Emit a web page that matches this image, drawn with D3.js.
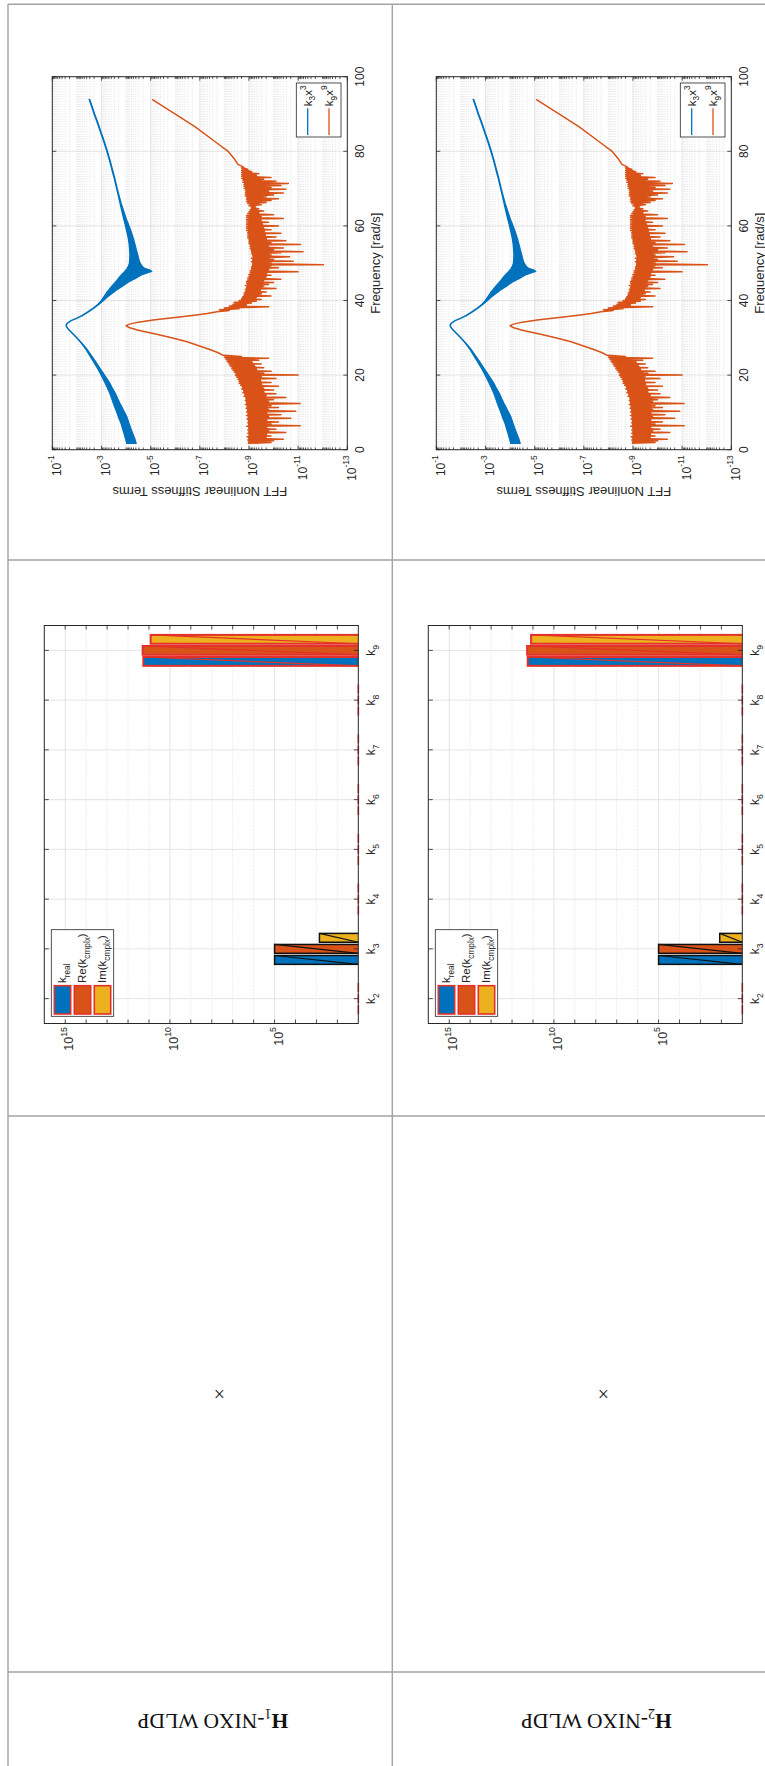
<!DOCTYPE html>
<html><head><meta charset="utf-8">
<script src="https://cdn.jsdelivr.net/npm/d3@7"></script>
<style>body{margin:0;background:#fff}svg{display:block}</style>
</head><body>
<svg id="c" width="765" height="1766"></svg>
<script>
// ---------------- DATA ----------------
const rowLabels = ["1", "2"];                       // H subscript of each table row
const termCategories = [2, 3, 4, 5, 6, 7, 8, 9];    // k_n
const trueTerm = [false, true, false, false, false, false, false, false];
const seriesNames = [
  [{t:"k"},{t:"real",s:"sub"}],
  [{t:"Re(k"},{t:"cmplx",s:"sub"},{t:")"}],
  [{t:"Im(k"},{t:"cmplx",s:"sub"},{t:")"}]
];
const h1Kreal    = [0, 1.0e5, 0, 0, 0, 0, 0, 1.86e11];
const h1ReCmplx  = [0, 1.0e5, 0, 0, 0, 0, 0, 2.0e11];
const h1ImCmplx  = [0, 7.2e2, 0, 0, 0, 0, 0, 8.3e10];
const h2Kreal    = [0, 1.0e5, 0, 0, 0, 0, 0, 1.78e11];
const h2ReCmplx  = [0, 1.0e5, 0, 0, 0, 0, 0, 1.9e11];
const h2ImCmplx  = [0, 1.2e2, 0, 0, 0, 0, 0, 1.23e11];
const barExpTicks = [5, 10, 15];
const freqTicks = [0, 20, 40, 60, 80, 100];
const fftExpTicks = [-13, -11, -9, -7, -5, -3, -1];
const fftLegend = [
  [{t:"k"},{t:"3",s:"sub"},{t:"x"},{t:"3",s:"sup"}],
  [{t:"k"},{t:"9",s:"sub"},{t:"x"},{t:"9",s:"sup"}]
];
// k3*x^3 spectrum: [freq, log10 upper envelope, log10 lower envelope]
const fftK3Band = [
[1.7,-4.03,-4.41],[3,-3.98,-4.35],[5,-3.89,-4.23],[7,-3.8,-4.12],[8.8,-3.69,-4.03],[10.5,-3.6,-3.9],
[12,-3.51,-3.78],[13.5,-3.43,-3.67],[15,-3.35,-3.57],[16.5,-3.25,-3.44],[18,-3.14,-3.32],[19.5,-3.03,-3.17],
[21,-2.91,-3.02],[22.5,-2.78,-2.87],[24,-2.64,-2.72],[25.5,-2.5,-2.56],[27,-2.36,-2.4],[28.5,-2.19,-2.21],
[30,-1.99,-2.0],[31,-1.84,-1.85],[32,-1.69,-1.7],[32.8,-1.59,-1.6],[33.4,-1.56,-1.57],[33.9,-1.6,-1.61],
[34.6,-1.76,-1.77],[35.3,-2.0,-2.01],[36,-2.22,-2.24],[37,-2.46,-2.48],[38,-2.67,-2.7],[39,-2.86,-2.9],
[40,-3.0,-3.08],[41,-3.1,-3.25],[42,-3.2,-3.45],[43,-3.32,-3.65],[44,-3.45,-3.88],[45,-3.58,-4.1],
[46,-3.7,-4.4],[46.8,-3.8,-4.6],[47.3,-3.88,-4.8],[47.8,-3.95,-5.04],[48.2,-4.0,-4.95],[48.6,-4.05,-4.75],
[49.2,-4.1,-4.65],[50,-4.14,-4.57],[51,-4.15,-4.52],[52,-4.16,-4.48],[53.5,-4.15,-4.42],[55,-4.13,-4.36],
[56.5,-4.1,-4.3],[58,-4.05,-4.23],[60,-3.98,-4.12],[62,-3.9,-4.0],[64,-3.83,-3.9],[66,-3.76,-3.8],
[68,-3.69,-3.72],[70,-3.62,-3.64],[72.5,-3.53,-3.55],[75,-3.43,-3.45],[77.5,-3.33,-3.35],[80,-3.22,-3.24],
[82.5,-3.1,-3.12],[85,-2.97,-2.99],[87.5,-2.84,-2.86],[90,-2.7,-2.72],[92,-2.6,-2.62],[93.9,-2.5,-2.52]];
// k9*x^9 spectrum: [freq, log10 value]
const fftK9 = [
[1.7,-8.95],[1.9,-9.9],[2.2,-9.0],[2.4,-10.0],[2.6,-8.95],[2.8,-10.4],[3.1,-9.0],[3.3,-9.6],[3.5,-8.92],[3.7,-9.9],
[4.0,-9.05],[4.2,-9.7],[4.4,-8.95],[4.6,-10.5],[4.9,-9.0],[5.1,-9.8],[5.3,-8.95],[5.5,-10.1],[5.8,-9.0],[6.0,-9.6],
[6.3,-8.9],[6.4,-11.08],[6.7,-9.0],[6.9,-9.9],[7.2,-8.95],[7.4,-10.2],[7.7,-9.0],[7.9,-9.7],[8.2,-8.92],[8.4,-10.7],
[8.7,-9.0],[8.9,-9.8],[9.2,-8.9],[9.4,-10.3],[9.7,-9.0],[9.9,-9.7],[10.1,-8.9],[10.3,-10.9],[10.6,-9.0],[10.8,-9.8],
[11.1,-8.88],[11.3,-10.2],[11.6,-8.95],[11.8,-9.9],[12.1,-8.85],[12.4,-11.08],[12.7,-8.95],[12.9,-9.8],[13.2,-8.85],[13.4,-10.0],
[13.7,-8.9],[14.0,-10.5],[14.3,-8.8],[14.5,-9.7],[14.8,-8.85],[15.0,-10.1],[15.3,-8.75],[15.5,-9.6],[15.8,-8.8],[16.0,-10.0],
[16.3,-8.7],[16.5,-9.6],[16.9,-8.75],[17.0,-10.2],[17.3,-8.65],[17.5,-9.5],[17.8,-8.6],[18.0,-9.9],[18.3,-8.6],[18.5,-9.4],
[18.8,-8.55],[19.1,-10.1],[19.4,-8.5],[19.6,-9.5],[19.9,-8.45],[20.0,-11.0],[20.3,-8.45],[20.5,-9.6],[20.8,-8.4],[21.0,-9.9],
[21.3,-8.35],[21.5,-9.3],[21.8,-8.3],[22.0,-9.6],[22.3,-8.25],[22.5,-9.2],[22.8,-8.2],[23.0,-9.5],[23.3,-8.15],[23.5,-9.1],
[23.8,-8.1],[24.0,-9.4],[24.3,-8.05],[24.5,-9.8],[24.8,-8.0],[25.0,-8.7],[25.3,-7.95],
[26,-7.75],[27,-7.35],[28,-6.9],[29,-6.45],[30,-5.85],[31,-5.2],[32,-4.5],[32.7,-4.15],[33.2,-4.0],[33.6,-4.1],
[34.2,-4.5],[34.8,-5.1],[35.4,-5.9],[36.0,-6.7],[36.5,-7.3],[37.0,-7.7],
[37.3,-8.2],[37.5,-7.8],[37.8,-8.6],[38.0,-8.0],[38.3,-9.8],[38.5,-8.2],[38.8,-8.9],[39.0,-8.35],[39.3,-9.1],[39.5,-8.4],
[39.8,-9.3],[40.0,-8.6],[40.3,-9.5],[40.5,-8.7],[40.8,-9.3],[41.0,-8.75],[41.2,-9.9],[41.5,-8.8],[41.8,-9.5],[42.0,-8.8],
[42.3,-9.7],[42.5,-8.85],[42.8,-9.4],[43.0,-8.85],[43.2,-10.1],[43.5,-8.9],[43.8,-9.6],[44.0,-8.85],[44.3,-9.8],[44.6,-8.9],
[44.8,-10.0],[45.1,-8.9],[45.3,-9.5],[45.5,-8.95],[45.7,-10.3],[46.0,-8.95],[46.3,-9.7],[46.5,-9.0],[46.8,-9.9],[47.0,-9.0],
[47.3,-9.6],[47.5,-9.05],[47.7,-11.0],[48.0,-9.05],[48.3,-9.8],[48.5,-9.1],[48.8,-10.2],[49.0,-9.1],[49.3,-9.9],[49.5,-9.15],
[49.6,-12.03],[49.9,-9.15],[50.1,-9.9],[50.4,-9.1],[50.5,-10.8],[50.8,-9.15],[51.0,-10.0],[51.3,-9.1],[51.7,-10.65],[52.0,-9.15],
[52.2,-9.9],[52.5,-9.1],[52.8,-10.3],[53.0,-9.1],[53.1,-11.2],[53.4,-9.1],[53.6,-10.0],[53.9,-9.05],[54.1,-10.4],[54.4,-9.05],
[54.6,-9.8],[54.9,-9.05],[55.0,-11.1],[55.3,-9.0],[55.5,-9.9],[55.8,-9.0],[56.0,-10.5],[56.3,-9.0],[56.5,-9.7],[56.8,-8.95],
[57.0,-10.1],[57.3,-8.95],[57.5,-9.6],[57.8,-8.95],[58.0,-10.3],[58.3,-8.95],[58.5,-9.6],[58.8,-8.9],[59.0,-9.9],[59.3,-8.9],
[59.5,-9.5],[59.8,-8.9],[60.0,-10.2],[60.3,-8.9],[60.5,-9.5],[60.8,-8.9],[61.0,-9.8],[61.3,-8.9],[61.5,-9.4],[61.8,-8.9],
[62.0,-10.4],[62.3,-8.9],[62.5,-9.5],[62.8,-8.9],[63.0,-10.0],[63.3,-8.95],[63.5,-9.4],[63.8,-9.0],[64.0,-9.6],[64.3,-9.05],
[64.6,-9.4],[64.9,-9.1],[65.1,-9.25],[65.4,-9.0],[65.7,-9.5],[66.0,-8.95],[66.3,-9.7],[66.5,-8.9],[66.8,-9.9],[67.0,-8.9],
[67.3,-10.2],[67.5,-8.9],[67.8,-9.7],[68.0,-8.85],[68.3,-10.0],[68.5,-8.85],[68.8,-10.4],[69.0,-8.85],[69.3,-9.8],[69.6,-8.85],
[69.8,-10.5],[70.1,-8.8],[70.3,-9.9],[70.6,-8.8],[70.8,-10.3],[71.1,-8.8],[71.4,-10.6],[71.7,-8.75],[72.0,-10.1],[72.3,-8.75],
[72.5,-9.6],[72.8,-8.7],[73.0,-9.9],[73.3,-8.7],[73.5,-9.3],[73.8,-8.7],[74.0,-9.4],[74.3,-8.7],[74.6,-9.1],[74.9,-8.7],
[75.2,-8.95],[75.5,-8.7],[75.9,-8.75],
[76.5,-8.55],[78,-8.4],[80,-8.15],[82.7,-7.6],[86.6,-6.8],[89.9,-6.02],[93.9,-5.06]];
// dense core of the k9*x^9 noise: [freq, log10 upper, log10 lower]
const fftK9CoreLow = [
[1.8,-8.97,-9.7],[5,-8.98,-9.75],[10,-8.93,-9.75],[14,-8.85,-9.7],[17,-8.7,-9.55],[20,-8.5,-9.45],
[22,-8.33,-9.3],[24,-8.12,-9.1],[25,-8.0,-8.6]];
const fftK9CoreMid = [
[37.5,-8.0,-8.3],[38.5,-8.25,-8.8],[40,-8.65,-9.2],[42,-8.85,-9.45],[45,-8.95,-9.6],[48,-9.1,-9.8],
[52,-9.15,-9.85],[56,-9.0,-9.75],[60,-8.95,-9.6],[63.5,-9.0,-9.4],[65.1,-9.1,-9.25],[66.5,-8.95,-9.5],
[70,-8.85,-9.7],[72.5,-8.75,-9.5],[74.5,-8.72,-9.1],[75.8,-8.72,-8.8]];

// ---------------- DRAWING ----------------
const C_BLUE = "#0072BD", C_ORANGE = "#D95319", C_YELLOW = "#EDB120", C_RED = "#e4302a";
const AX = "#262626", GRID = "#dedede", GRIDMIN = "#cfcfcf";
const FONT = "'Liberation Sans', Arial, Helvetica, sans-serif";
const svg = d3.select("#c");
svg.append("rect").attr("width", 765).attr("height", 1766).attr("fill", "#fff");
const defs = svg.append("defs");

function rich(sel, parts, fs) {
  let cur = 0;
  parts.forEach(p => {
    const off = p.s === "sub" ? fs * 0.32 : p.s === "sup" ? -fs * 0.5 : 0;
    sel.append("tspan").attr("dy", off - cur).attr("font-size", p.s ? fs * 0.72 : fs).text(p.t);
    cur = off;
  });
}

// table lines
const tbl = svg.append("g").attr("stroke", "#a3a3a3").attr("stroke-width", 1.4);
[8, 392.3].forEach(x => tbl.append("line").attr("x1", x).attr("x2", x).attr("y1", 4.3).attr("y2", 1766));
[4.3, 560, 1116, 1672].forEach(y => tbl.append("line").attr("x1", 8).attr("x2", 765).attr("y1", y).attr("y2", y));

function drawFFT(g, W, H, id) {
  const x = d3.scaleLinear().domain([0, 100]).range([0, W]);
  const y = d3.scaleLog().domain([1e-1, 1e-13]).range([0, H]);
  defs.append("clipPath").attr("id", id).append("rect").attr("width", W).attr("height", H);
  const minorVals = [];
  for (let e = -13; e < -1; e++) for (let m = 1; m <= 9; m++) {
    const v = m * Math.pow(10, e);
    if (m === 1 && fftExpTicks.includes(e)) continue;
    minorVals.push(v);
  }
  g.append("g").selectAll("line").data(minorVals).join("line")
    .attr("x1", 0).attr("x2", W).attr("y1", d => y(d)).attr("y2", d => y(d))
    .attr("stroke", GRIDMIN).attr("stroke-width", 0.6).attr("stroke-dasharray", "1,1.5");
  g.append("g").selectAll("line").data(fftExpTicks.slice(1, -1)).join("line")
    .attr("x1", 0).attr("x2", W).attr("y1", d => y(Math.pow(10, d))).attr("y2", d => y(Math.pow(10, d)))
    .attr("stroke", GRID).attr("stroke-width", 0.8);
  g.append("g").selectAll("line").data(freqTicks.slice(1, -1)).join("line")
    .attr("x1", d => x(d)).attr("x2", d => x(d)).attr("y1", 0).attr("y2", H)
    .attr("stroke", GRID).attr("stroke-width", 0.8);
  // data
  const pg = g.append("g").attr("clip-path", `url(#${id})`);
  const band = d3.area().x(d => x(d[0])).y0(d => y(Math.pow(10, d[2]))).y1(d => y(Math.pow(10, d[1])));
  pg.append("path").datum(fftK3Band).attr("d", band)
    .attr("fill", C_BLUE).attr("stroke", C_BLUE).attr("stroke-width", 1.4).attr("stroke-linejoin", "round");
  [fftK9CoreLow, fftK9CoreMid].forEach(core => pg.append("path").datum(core).attr("d", band)
    .attr("fill", C_ORANGE).attr("stroke", "none"));
  pg.append("path").datum(fftK9)
    .attr("d", d3.line().x(d => x(d[0])).y(d => y(Math.pow(10, d[1]))))
    .attr("fill", "none").attr("stroke", C_ORANGE).attr("stroke-width", 1.5).attr("stroke-linejoin", "round");
  // box
  g.append("rect").attr("width", W).attr("height", H).attr("fill", "none").attr("stroke", AX).attr("stroke-width", 1);
  // ticks
  const tk = g.append("g").attr("stroke", AX).attr("stroke-width", 0.8);
  freqTicks.forEach(t => {
    tk.append("line").attr("x1", x(t)).attr("x2", x(t)).attr("y1", H).attr("y2", H - 4);
    tk.append("line").attr("x1", x(t)).attr("x2", x(t)).attr("y1", 0).attr("y2", 4);
  });
  fftExpTicks.forEach(e => {
    const v = y(Math.pow(10, e));
    tk.append("line").attr("x1", 0).attr("x2", 4).attr("y1", v).attr("y2", v);
    tk.append("line").attr("x1", W).attr("x2", W - 4).attr("y1", v).attr("y2", v);
  });
  minorVals.forEach(d => {
    const v = y(d);
    tk.append("line").attr("x1", 0).attr("x2", 2.2).attr("y1", v).attr("y2", v);
    tk.append("line").attr("x1", W).attr("x2", W - 2.2).attr("y1", v).attr("y2", v);
  });
  // labels
  const lab = g.append("g").attr("font-family", FONT).attr("fill", AX);
  freqTicks.forEach(t => lab.append("text").attr("x", x(t)).attr("y", H + 16.5)
    .attr("text-anchor", "middle").attr("font-size", 12).text(t));
  fftExpTicks.forEach(e => {
    const t = lab.append("text").attr("x", -5.5).attr("y", y(Math.pow(10, e)) + 8.5)
      .attr("text-anchor", "end").attr("font-size", 12);
    t.append("tspan").text("10");
    t.append("tspan").attr("dy", -6.5).attr("font-size", 8.5).text(e);
  });
  lab.append("text").attr("x", W / 2).attr("y", H + 32.5).attr("text-anchor", "middle")
    .attr("font-size", 13).text("Frequency [rad/s]");
  lab.append("text").attr("transform", `translate(-37.5,${H / 2}) rotate(-90)`)
    .attr("text-anchor", "middle").attr("font-size", 13).text("FFT Nonlinear Stiffness Terms");
  // legend
  const lg = g.append("g");
  lg.append("rect").attr("x", W - 60.3).attr("y", H - 51).attr("width", 54).attr("height", 44.7)
    .attr("fill", "#fff").attr("stroke", AX).attr("stroke-width", 0.8);
  [C_BLUE, C_ORANGE].forEach((c, i) => {
    const vy = H - 39.6 + i * 21.3;
    lg.append("line").attr("x1", W - 58.3).attr("x2", W - 31.6).attr("y1", vy).attr("y2", vy)
      .attr("stroke", c).attr("stroke-width", 1.3);
    const t = lg.append("text").attr("x", W - 29.5).attr("y", vy + 4).attr("font-family", FONT).attr("fill", AX);
    rich(t, fftLegend[i], 11.5);
  });
}

function drawBars(g, W, H, id, series) {
  const x = d3.scaleLinear().domain([1.5, 9.5]).range([0, W]);
  const y = d3.scaleLog().domain([1e16, 1e1]).range([0, H]);
  defs.append("clipPath").attr("id", id).append("rect").attr("width", W).attr("height", H);
  const decades = d3.range(2, 16);
  g.append("g").selectAll("line").data(decades.filter(e => !barExpTicks.includes(e))).join("line")
    .attr("x1", 0).attr("x2", W).attr("y1", d => y(Math.pow(10, d))).attr("y2", d => y(Math.pow(10, d)))
    .attr("stroke", GRIDMIN).attr("stroke-width", 0.6).attr("stroke-dasharray", "1,1.5");
  g.append("g").selectAll("line").data(barExpTicks).join("line")
    .attr("x1", 0).attr("x2", W).attr("y1", d => y(Math.pow(10, d))).attr("y2", d => y(Math.pow(10, d)))
    .attr("stroke", GRID).attr("stroke-width", 0.8);
  g.append("g").selectAll("line").data(termCategories).join("line")
    .attr("x1", d => x(d)).attr("x2", d => x(d)).attr("y1", 0).attr("y2", H)
    .attr("stroke", GRID).attr("stroke-width", 0.8);
  // bars
  const offs = [-0.2222, 0, 0.2222], bw = 0.1778, fills = [C_BLUE, C_ORANGE, C_YELLOW];
  const bg = g.append("g").attr("clip-path", `url(#${id})`);
  const zg = g.append("g");
  termCategories.forEach((cat, i) => {
    const edge = trueTerm[i] ? "#111" : C_RED;
    series.forEach((vals, s) => {
      const v = vals[i];
      const x0 = x(cat + offs[s] - bw / 2), x1 = x(cat + offs[s] + bw / 2);
      if (v > 0) {
        bg.append("rect").attr("x", x0).attr("y", y(v)).attr("width", x1 - x0).attr("height", H - y(v) + 3)
          .attr("fill", fills[s]).attr("stroke", edge).attr("stroke-width", trueTerm[i] ? 1.5 : 2);
        bg.append("line").attr("x1", x1).attr("y1", y(v)).attr("x2", x0).attr("y2", H)
          .attr("stroke", edge).attr("stroke-width", 1.2);
      } else {
        zg.append("line").attr("x1", x0).attr("x2", x1).attr("y1", H).attr("y2", H)
          .attr("stroke", C_RED).attr("stroke-opacity", 0.75).attr("stroke-width", 1.8);
      }
    });
  });
  // box
  g.append("rect").attr("width", W).attr("height", H).attr("fill", "none").attr("stroke", AX).attr("stroke-width", 1);
  const tk = g.append("g").attr("stroke", AX).attr("stroke-width", 0.8);
  termCategories.forEach(c => {
    tk.append("line").attr("x1", x(c)).attr("x2", x(c)).attr("y1", 0).attr("y2", 4.5);
    tk.append("line").attr("x1", x(c)).attr("x2", x(c)).attr("y1", H).attr("y2", H - 4.5);
  });
  decades.forEach(e => {
    const v = y(Math.pow(10, e));
    tk.append("line").attr("x1", 0).attr("x2", 4).attr("y1", v).attr("y2", v);
    tk.append("line").attr("x1", W).attr("x2", W - 4).attr("y1", v).attr("y2", v);
  });
  const lab = g.append("g").attr("font-family", FONT).attr("fill", AX);
  termCategories.forEach(c => {
    const t = lab.append("text").attr("x", x(c)).attr("y", H + 17).attr("text-anchor", "middle");
    rich(t, [{t:"k"},{t:String(c),s:"sub"}], 12);
  });
  barExpTicks.forEach(e => {
    const t = lab.append("text").attr("x", -3.5).attr("y", y(Math.pow(10, e)) + 8)
      .attr("text-anchor", "end").attr("font-size", 12.5);
    t.append("tspan").text("10");
    t.append("tspan").attr("dy", -6.5).attr("font-size", 8.8).text(e);
  });
  // legend
  const lg = g.append("g");
  lg.append("rect").attr("x", 7.2).attr("y", 7).attr("width", 86.6).attr("height", 62.4)
    .attr("fill", "#fff").attr("stroke", AX).attr("stroke-width", 0.8);
  fills.forEach((c, i) => {
    const vc = 18.2 + i * 20;
    lg.append("rect").attr("x", 9.5).attr("y", vc - 8.2).attr("width", 28.3).attr("height", 16.4)
      .attr("fill", c).attr("stroke", C_RED).attr("stroke-width", 1.6);
    const t = lg.append("text").attr("x", 40.5).attr("y", vc + 4).attr("font-family", FONT).attr("fill", AX);
    rich(t, seriesNames[i], 11.5);
  });
}

const panelSeries = [[h1Kreal, h1ReCmplx, h1ImCmplx], [h2Kreal, h2ReCmplx, h2ImCmplx]];
rowLabels.forEach((lbl, r) => {
  const off = r * 384;
  drawFFT(svg.append("g").attr("transform", `translate(${52.3 + off},449.7) rotate(-90)`), 373, 295, "fc" + r);
  drawBars(svg.append("g").attr("transform", `translate(${44.3 + off},1023.5) rotate(-90)`), 398, 314, "bc" + r, panelSeries[r]);
  svg.append("text").attr("x", 219.5 + off).attr("y", 1394).attr("text-anchor", "middle")
    .attr("dominant-baseline", "central").attr("font-family", "'Liberation Serif', 'Times New Roman', serif")
    .attr("font-size", 20).attr("fill", "#222").text("×");
  const t = svg.append("text").attr("transform", `translate(${212.9 + off - 0.5 * r},1721) rotate(180)`)
    .attr("text-anchor", "middle").attr("y", 7.2)
    .attr("font-family", "'Liberation Serif', 'Times New Roman', serif").attr("fill", "#111");
  t.append("tspan").attr("font-weight", "bold").attr("font-size", 21.5).text("H");
  t.append("tspan").attr("font-size", 14).attr("dy", 5).text(lbl);
  t.append("tspan").attr("font-size", 21.5).attr("dy", -5).text("-NIXO WLDP");
});
</script></body></html>
